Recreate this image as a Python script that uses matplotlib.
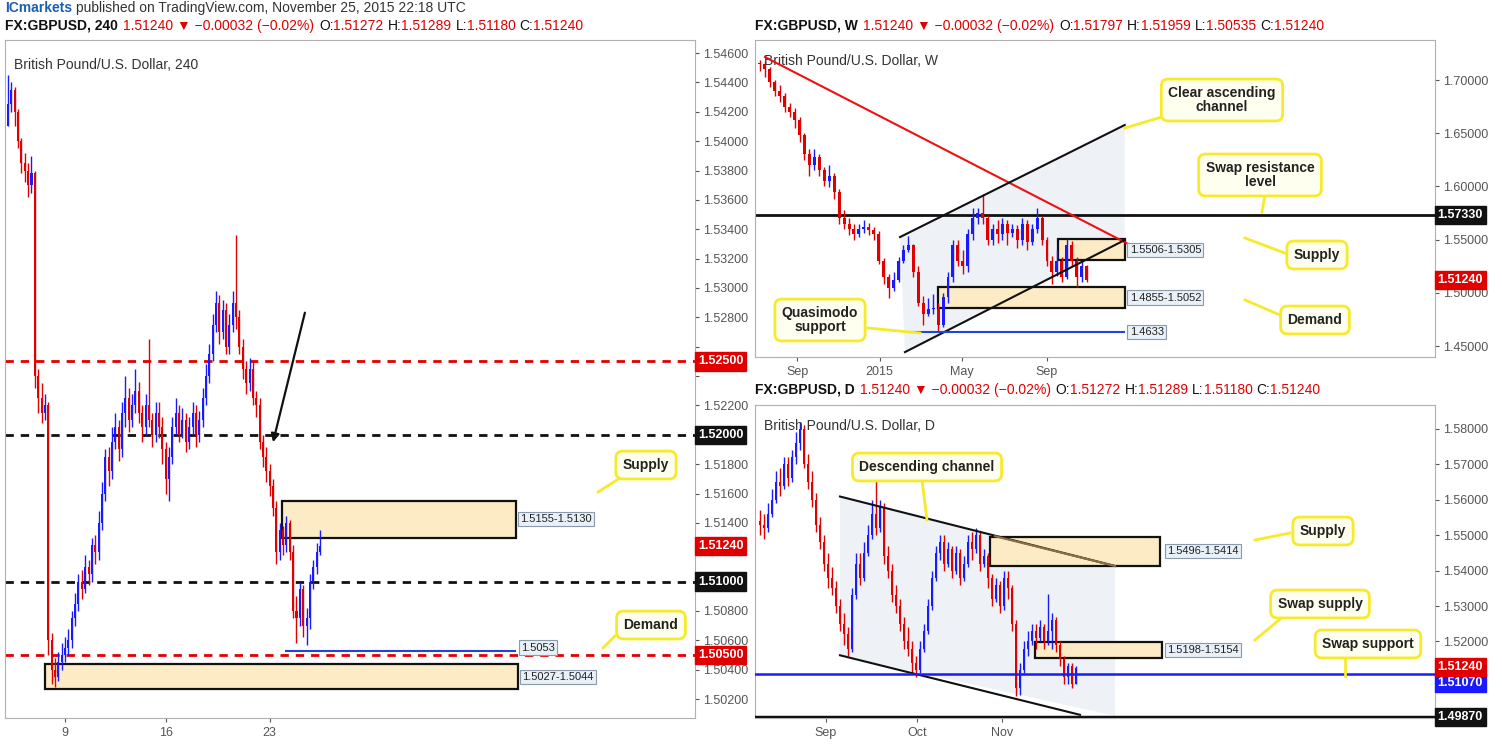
import matplotlib
matplotlib.use("Agg")
import matplotlib.pyplot as plt
from matplotlib.patches import Rectangle, Polygon
from matplotlib.lines import Line2D

plt.rcParams["font.family"] = ["Liberation Sans", "DejaVu Sans"]

# ---------------- DATA ----------------
h4_close = [1.5425,1.5435,1.5420,1.5400,1.5385,1.5380,1.5370,1.5378,1.5240,1.5225,
 1.5215,1.5220,1.5060,1.5040,1.5035,1.5045,1.5050,1.5055,1.5060,1.5075,
 1.5085,1.5100,1.5095,1.5110,1.5105,1.5125,1.5120,1.5140,1.5160,1.5185,
 1.5175,1.5195,1.5205,1.5190,1.5215,1.5225,1.5210,1.5220,1.5230,1.5215,
 1.5205,1.5220,1.5210,1.5200,1.5215,1.5205,1.5190,1.5170,1.5185,1.5205,
 1.5215,1.5200,1.5210,1.5195,1.5205,1.5215,1.5200,1.5210,1.5225,1.5240,
 1.5255,1.5275,1.5290,1.5270,1.5285,1.5260,1.5275,1.5290,1.5280,1.5260,
 1.5245,1.5235,1.5245,1.5225,1.5220,1.5195,1.5185,1.5175,1.5165,1.5150,
 1.5120,1.5135,1.5125,1.5140,1.5120,1.5080,1.5075,1.5095,1.5070,1.5075,
 1.5100,1.5110,1.5120,1.5124]
h4_high = [1.5445,1.5440,1.5437,1.5422,1.5402,1.5392,1.5385,1.5390,1.5380,1.5245,
 1.5235,1.5228,1.5222,1.5065,1.5048,1.5052,1.5058,1.5062,1.5068,1.5080,
 1.5092,1.5105,1.5108,1.5118,1.5115,1.5130,1.5132,1.5148,1.5168,1.5190,
 1.5192,1.5205,1.5215,1.5210,1.5222,1.5240,1.5232,1.5228,1.5245,1.5236,
 1.5220,1.5228,1.5265,1.5215,1.5222,1.5222,1.5212,1.5195,1.5192,1.5212,
 1.5225,1.5220,1.5218,1.5215,1.5212,1.5222,1.5220,1.5216,1.5232,1.5248,
 1.5262,1.5282,1.5298,1.5295,1.5292,1.5290,1.5282,1.5298,1.5336,1.5285,
 1.5265,1.5250,1.5252,1.5250,1.5230,1.5225,1.5200,1.5192,1.5180,1.5170,
 1.5155,1.5140,1.5138,1.5145,1.5142,1.5125,1.5090,1.5100,1.5098,1.5082,
 1.5105,1.5115,1.5126,1.5135]
h4_low = [1.5418,1.5420,1.5410,1.5395,1.5378,1.5372,1.5362,1.5365,1.5232,1.5215,
 1.5208,1.5210,1.5050,1.5030,1.5028,1.5032,1.5040,1.5045,1.5050,1.5055,
 1.5070,1.5080,1.5088,1.5092,1.5098,1.5100,1.5112,1.5115,1.5135,1.5155,
 1.5165,1.5170,1.5190,1.5182,1.5185,1.5205,1.5202,1.5205,1.5215,1.5208,
 1.5195,1.5200,1.5205,1.5192,1.5195,1.5198,1.5180,1.5160,1.5155,1.5180,
 1.5200,1.5195,1.5198,1.5188,1.5190,1.5200,1.5192,1.5195,1.5205,1.5220,
 1.5235,1.5250,1.5270,1.5262,1.5265,1.5255,1.5255,1.5270,1.5272,1.5255,
 1.5238,1.5228,1.5230,1.5220,1.5212,1.5190,1.5178,1.5168,1.5158,1.5145,
 1.5112,1.5115,1.5118,1.5120,1.5115,1.5075,1.5058,1.5070,1.5062,1.5057,
 1.5068,1.5095,1.5105,1.5118]
h4_first_open = 1.5410
h4_xticks = [17, 47, 78]
h4_xlabels = ["9", "16", "23"]

w_close = [1.7150,1.7100,1.6980,1.6900,1.6850,1.6750,1.6700,1.6620,1.6480,1.6300,
 1.6200,1.6280,1.6150,1.6050,1.6100,1.5950,1.5700,1.5650,1.5600,1.5550,
 1.5600,1.5620,1.5590,1.5550,1.5300,1.5150,1.5050,1.5120,1.5300,1.5400,
 1.5450,1.5200,1.4900,1.4800,1.4850,1.4850,1.4700,1.4960,1.5150,1.5450,
 1.5300,1.5250,1.5550,1.5700,1.5750,1.5700,1.5500,1.5600,1.5550,1.5650,
 1.5560,1.5600,1.5500,1.5650,1.5480,1.5600,1.5700,1.5500,1.5300,1.5200,
 1.5300,1.5150,1.5450,1.5300,1.5150,1.5250,1.5124]
w_high = [1.7190,1.7180,1.7120,1.7000,1.6950,1.6880,1.6780,1.6740,1.6650,1.6500,
 1.6350,1.6350,1.6300,1.6180,1.6200,1.6130,1.5980,1.5780,1.5700,1.5650,
 1.5650,1.5680,1.5660,1.5620,1.5580,1.5330,1.5180,1.5200,1.5340,1.5450,
 1.5530,1.5460,1.5250,1.4970,1.4950,1.4990,1.4900,1.5000,1.5200,1.5500,
 1.5500,1.5400,1.5600,1.5800,1.5800,1.5930,1.5730,1.5650,1.5680,1.5700,
 1.5680,1.5650,1.5640,1.5700,1.5680,1.5650,1.5800,1.5720,1.5520,1.5350,
 1.5400,1.5340,1.5510,1.5490,1.5340,1.5300,1.5260]
w_low = [1.7080,1.7030,1.6930,1.6850,1.6790,1.6700,1.6650,1.6550,1.6420,1.6250,
 1.6100,1.6150,1.6100,1.6000,1.5990,1.5880,1.5650,1.5600,1.5540,1.5500,
 1.5520,1.5560,1.5540,1.5500,1.5270,1.5080,1.4950,1.5020,1.5100,1.5280,
 1.5380,1.5150,1.4880,1.4700,1.4780,1.4800,1.4633,1.4680,1.4900,1.5100,
 1.5250,1.5180,1.5200,1.5500,1.5650,1.5650,1.5450,1.5450,1.5470,1.5500,
 1.5450,1.5520,1.5420,1.5450,1.5400,1.5450,1.5560,1.5450,1.5250,1.5080,
 1.5160,1.5100,1.5130,1.5250,1.5054,1.5100,1.5100]
w_first_open = 1.7164
w_xticks = [7.5, 24.2, 40.8, 58.0]
w_xlabels = ["Sep", "2015", "May", "Sep"]

d_close = [1.5530,1.5520,1.5560,1.5600,1.5650,1.5640,1.5700,1.5660,1.5720,1.5760,
 1.5800,1.5700,1.5650,1.5600,1.5530,1.5480,1.5420,1.5380,1.5350,1.5300,
 1.5250,1.5220,1.5180,1.5330,1.5420,1.5380,1.5450,1.5500,1.5560,1.5520,
 1.5580,1.5440,1.5400,1.5330,1.5300,1.5250,1.5200,1.5180,1.5140,1.5120,
 1.5180,1.5230,1.5300,1.5380,1.5450,1.5480,1.5420,1.5460,1.5400,1.5450,
 1.5380,1.5420,1.5480,1.5460,1.5500,1.5420,1.5440,1.5380,1.5320,1.5360,
 1.5300,1.5380,1.5350,1.5250,1.5070,1.5120,1.5180,1.5200,1.5230,1.5210,
 1.5240,1.5200,1.5230,1.5260,1.5190,1.5150,1.5100,1.5130,1.5080,1.5124]
d_high = [1.5570,1.5560,1.5590,1.5630,1.5680,1.5690,1.5720,1.5720,1.5740,1.5790,
 1.5820,1.5810,1.5730,1.5680,1.5620,1.5550,1.5500,1.5450,1.5410,1.5370,
 1.5320,1.5280,1.5240,1.5350,1.5450,1.5450,1.5480,1.5530,1.5600,1.5660,
 1.5600,1.5590,1.5470,1.5420,1.5360,1.5320,1.5270,1.5240,1.5200,1.5160,
 1.5200,1.5250,1.5320,1.5400,1.5470,1.5500,1.5500,1.5480,1.5470,1.5470,
 1.5460,1.5440,1.5500,1.5510,1.5520,1.5510,1.5460,1.5450,1.5390,1.5380,
 1.5370,1.5400,1.5400,1.5360,1.5260,1.5140,1.5200,1.5230,1.5250,1.5250,
 1.5260,1.5250,1.5335,1.5280,1.5270,1.5200,1.5160,1.5140,1.5140,1.5130]
d_low = [1.5500,1.5490,1.5510,1.5550,1.5590,1.5610,1.5630,1.5640,1.5650,1.5700,
 1.5740,1.5690,1.5630,1.5580,1.5510,1.5460,1.5400,1.5350,1.5330,1.5280,
 1.5230,1.5190,1.5160,1.5170,1.5320,1.5360,1.5370,1.5440,1.5490,1.5500,
 1.5510,1.5420,1.5380,1.5310,1.5280,1.5230,1.5180,1.5160,1.5110,1.5100,
 1.5110,1.5170,1.5220,1.5290,1.5370,1.5430,1.5400,1.5410,1.5380,1.5390,
 1.5360,1.5370,1.5410,1.5430,1.5450,1.5400,1.5410,1.5350,1.5300,1.5310,
 1.5280,1.5290,1.5320,1.5230,1.5045,1.5050,1.5110,1.5160,1.5190,1.5180,
 1.5200,1.5180,1.5190,1.5180,1.5170,1.5130,1.5080,1.5080,1.5070,1.5110]
d_first_open = 1.5540
d_xticks = [16.5, 39.25, 60.5]
d_xlabels = ["Sep", "Oct", "Nov"]

# ---------------- STYLE / LAYOUT ----------------
W, H = 1502, 744
UP, DN = "#1a1aff", "#e00000"
BOXFC, BOXEC = "#fcebc4", "#111111"
YEL, YELFC = "#f7ea2a", "#fffff0"

fig = plt.figure(figsize=(W/100, H/100), dpi=100)
fig.patch.set_facecolor("white")
renderer = fig.canvas.get_renderer()

def fx(x): return x / W
def fy(y): return 1 - y / H

def mk_ax(x0, y0, x1, y1):
    ax = fig.add_axes([fx(x0), fy(y1), (x1-x0)/W, (y1-y0)/H])
    ax.yaxis.tick_right()
    for s in ax.spines.values():
        s.set_color("#b0b0b0")
    ax.tick_params(axis="both", labelsize=9, colors="#555555", length=3)
    ax.tick_params(axis="y", pad=3)
    return ax

def yticks(ax, vals, hidden=()):
    ax.set_yticks(vals)
    ax.set_yticklabels(["" if round(v, 4) in hidden else f"{v:.5f}" for v in vals])

def candles(ax, closes, highs, lows, first_open, minbody):
    opens = [first_open] + closes[:-1]
    for i, (o, c, h, l) in enumerate(zip(opens, closes, highs, lows)):
        col = UP if c >= o else DN
        h = max(h, o, c); l = min(l, o, c)
        ax.vlines(i, l, h, color=col, lw=1, zorder=3)
        ax.bar(i, max(abs(c-o), minbody), bottom=min(o, c), width=0.6,
               color=col, lw=0, zorder=3)

def tag(ax, price, text, fc, tc="white", z=10):
    ax.text(1.004, price, text, transform=ax.get_yaxis_transform(), va="center",
            ha="left", fontsize=9, fontweight="bold", color=tc, clip_on=False,
            bbox=dict(boxstyle="square,pad=0.25", fc=fc, ec=fc), zorder=z)

def rlabel(ax, x, price, text):
    ax.text(x, price, text, va="center", ha="left", fontsize=8, color="#222",
            bbox=dict(boxstyle="square,pad=0.2", fc="#e8f0f8", ec="#8a9aaa", lw=0.8), zorder=6)

def zone(ax, x0, x1, p0, p1):
    ax.add_patch(Rectangle((x0, p0), x1-x0, p1-p0, fc=BOXFC, ec=BOXEC, lw=1.6, zorder=2))

def callout(cx, cy, text, p0, p1):
    fig.add_artist(Line2D([fx(p0[0]), fx(p1[0])], [fy(p0[1]), fy(p1[1])],
                          color=YEL, lw=2, transform=fig.transFigure, zorder=19))
    fig.text(fx(cx), fy(cy), text, ha="center", va="center", fontsize=10,
             fontweight="bold", color="#222", linespacing=1.0, zorder=20,
             bbox=dict(boxstyle="round,pad=0.5", fc=YELFC, ec=YEL, lw=2))

def header(y, x0, parts):
    x = x0
    for t, c, b, gap in parts:
        txt = fig.text(fx(x), fy(y), t, color=c, fontsize=10, va="center",
                       fontweight="bold" if b else "normal")
        x += txt.get_window_extent(renderer).width + gap

# ---------------- LEFT: 4H ----------------
axL = mk_ax(5, 40, 695, 718)
candles(axL, h4_close, h4_high, h4_low, h4_first_open, 0.00005)
axL.set_xlim(-0.9, 204.8)
axL.set_ylim(1.50071, 1.54689)
yticks(axL, [1.5020 + 0.002*k for k in range(23)], hidden=(1.52, 1.51, 1.512, 1.526, 1.524))
axL.set_xticks(h4_xticks); axL.set_xticklabels(h4_xlabels)
axL.axhline(1.5250, color="#e00000", ls="--", lw=2, dashes=(3, 2.5), zorder=1)
axL.axhline(1.5200, color="#111", ls="--", lw=2, dashes=(3, 2.5), zorder=1)
axL.axhline(1.5100, color="#111", ls="--", lw=2, dashes=(3, 2.5), zorder=1)
axL.axhline(1.5050, color="#e00000", ls="--", lw=2, dashes=(3, 2.5), zorder=1)
zone(axL, 81.8, 151.3, 1.5130, 1.5155)
zone(axL, 11.0, 151.9, 1.5027, 1.5044)
axL.hlines(1.5053, 82.7, 151.3, color="#2244dd", lw=1.5, zorder=4)
rlabel(axL, 152.8, 1.51425, "1.5155-1.5130")
rlabel(axL, 153.0, 1.5055, "1.5053")
rlabel(axL, 153.4, 1.5035, "1.5027-1.5044")
axL.annotate("", xy=(78.8, 1.51931), xytext=(88.7, 1.5285),
             arrowprops=dict(arrowstyle="-|>", color="#111", lw=1.6, mutation_scale=12), zorder=8)
axL.text(0.013, 0.973, "British Pound/U.S. Dollar, 240", transform=axL.transAxes,
         fontsize=10, color="#333", va="top")
tag(axL, 1.5250, "1.52500", "#e00000")
tag(axL, 1.5200, "1.52000", "#111")
tag(axL, 1.5100, "1.51000", "#111")
tag(axL, 1.5050, "1.50500", "#e00000")
tag(axL, 1.5124, "1.51240", "#e00000")

# ---------------- TOP RIGHT: WEEKLY ----------------
axW = mk_ax(755, 40, 1435, 357)
axW.add_patch(Polygon([(28.3, 1.5524), (73.7, 1.6577), (73.7, 1.5496), (29.3, 1.4443)],
                      closed=True, fc="#eef1f6", ec="none", zorder=0))
candles(axW, w_close, w_high, w_low, w_first_open, 0.0006)
axW.set_xlim(-1.0, 136.4)
axW.set_ylim(1.4397, 1.7376)
yticks(axW, [1.45, 1.50, 1.55, 1.60, 1.65, 1.70])
axW.set_xticks(w_xticks); axW.set_xticklabels(w_xlabels)
axW.axhline(1.5733, color="#111", lw=2, zorder=2)
zone(axW, 60.2, 73.7, 1.5305, 1.5506)
zone(axW, 36.0, 73.7, 1.4855, 1.5052)
axW.plot([1.0, 76.8], [1.7216, 1.5402], color="#ee1111", lw=1.5, zorder=4)
axW.plot([28.3, 73.7], [1.5524, 1.6577], color="#111", lw=1.5, zorder=4)
axW.plot([29.3, 73.7], [1.4443, 1.5496], color="#111", lw=1.5, zorder=4)
axW.hlines(1.4633, 29.3, 73.7, color="#2244dd", lw=1.5, zorder=4)
rlabel(axW, 74.7, 1.5405, "1.5506-1.5305")
rlabel(axW, 74.7, 1.4955, "1.4855-1.5052")
rlabel(axW, 74.7, 1.4633, "1.4633")
axW.text(0.013, 0.955, "British Pound/U.S. Dollar, W", transform=axW.transAxes,
         fontsize=10, color="#333", va="top")
tag(axW, 1.5733, "1.57330", "#111")
tag(axW, 1.5124, "1.51240", "#e00000")

# ---------------- BOTTOM RIGHT: DAILY ----------------
axD = mk_ax(755, 405, 1435, 718)
axD.add_patch(Polygon([(20, 1.5609), (88.75, 1.5413), (88.75, 1.4990), (20, 1.5161)],
                      closed=True, fc="#eef1f6", ec="none", zorder=0))
candles(axD, d_close, d_high, d_low, d_first_open, 0.0002)
axD.set_xlim(-1.25, 168.75)
axD.set_ylim(1.4984, 1.58673)
yticks(axD, [1.50 + 0.01*k for k in range(9)], hidden=(1.50, 1.51))
axD.set_xticks(d_xticks); axD.set_xticklabels(d_xlabels)
zone(axD, 57.5, 100, 1.5414, 1.5496)
zone(axD, 68.75, 100.5, 1.5154, 1.5198)
axD.plot([20, 88.75], [1.5609, 1.5413], color="#111", lw=1.5, zorder=4)
axD.plot([20, 80], [1.5161, 1.4993], color="#111", lw=1.5, zorder=4)
axD.plot([58.75, 88.75], [1.5497, 1.5413], color="#8b6f47", lw=1.5, zorder=4)
axD.axhline(1.5107, color="#1a1aff", lw=1.8, zorder=4)
axD.axhline(1.4987, color="#111", lw=2.5, zorder=4)
rlabel(axD, 101.75, 1.5455, "1.5496-1.5414")
rlabel(axD, 101.75, 1.5176, "1.5198-1.5154")
axD.text(0.013, 0.955, "British Pound/U.S. Dollar, D", transform=axD.transAxes,
         fontsize=10, color="#333", va="top")
tag(axD, 1.5127, "1.51240", "#e00000", z=11)
tag(axD, 1.5083, "1.51070", "#1a1aff")
tag(axD, 1.4987, "1.49870", "#111")

# ---------------- HEADERS ----------------
header(8, 5, [("ICmarkets", "#1a5fb4", True, 4),
              ("published on TradingView.com, November 25, 2015 22:18 UTC", "#333", False, 0)])
def quote(o, h, l, c):
    return [("1.51240 ▼ −0.00032 (−0.02%)", "#e00000", False, 5),
            ("O:", "#111", False, 0), (o, "#e00000", False, 4),
            ("H:", "#111", False, 0), (h, "#e00000", False, 4),
            ("L:", "#111", False, 0), (l, "#e00000", False, 4),
            ("C:", "#111", False, 0), (c, "#e00000", False, 0)]
header(26, 5, [("FX:GBPUSD, 240", "#111", True, 5)] + quote("1.51272", "1.51289", "1.51180", "1.51240"))
header(26, 755, [("FX:GBPUSD, W", "#111", True, 5)] + quote("1.51797", "1.51959", "1.50535", "1.51240"))
header(390, 755, [("FX:GBPUSD, D", "#111", True, 5)] + quote("1.51272", "1.51289", "1.51180", "1.51240"))

# ---------------- CALLOUTS ----------------
callout(646, 465, "Supply", (620, 478), (598, 492))
callout(651, 625, "Demand", (615, 636), (603, 648))
callout(1222, 100, "Clear ascending\nchannel", (1165, 116), (1125, 128))
callout(1260, 175, "Swap resistance\nlevel", (1265, 195), (1262, 212))
callout(1317, 255, "Supply", (1290, 255), (1245, 238))
callout(1315, 320, "Demand", (1280, 315), (1245, 300))
callout(820, 320, "Quasimodo\nsupport", (868, 328), (920, 333))
callout(927, 467, "Descending channel", (922, 480), (927, 520))
callout(1323, 531, "Supply", (1290, 533), (1255, 540))
callout(1320, 604, "Swap supply", (1285, 615), (1255, 640))
callout(1368, 644, "Swap support", (1345, 658), (1345, 676))

fig.savefig("out.png", dpi=100)
